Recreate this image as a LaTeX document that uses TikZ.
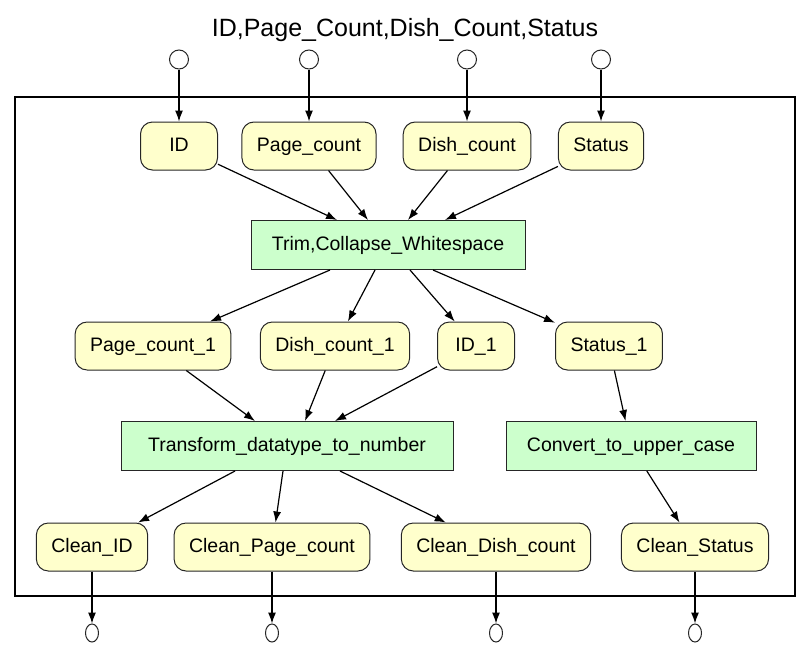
\documentclass[tikz,border=0pt]{standalone}
\usepackage{fontspec}
\setmainfont{Liberation Sans}
\usepackage{xcolor}
\usepackage{tikz}
\usetikzlibrary{arrows.meta,positioning,shapes.geometric}

\definecolor{dataYellow}{HTML}{FFFFCC}
\definecolor{procGreen}{HTML}{CCFFCC}

\begin{document}
\begin{tikzpicture}[
    x=1pt, y=1pt,
    >={Latex[length=11pt,width=8pt]},
    data/.style={rectangle, draw=black!85, line width=1pt, rounded corners=12pt, fill=dataYellow, minimum width=77pt, minimum height=48pt, inner xsep=15pt, text height=14pt, text depth=4pt, font=\fontsize{19.5}{23}\selectfont},
    proc/.style={rectangle, draw=black!85, line width=1pt, fill=procGreen, minimum height=49pt, inner xsep=15pt, text height=14pt, text depth=4pt, font=\fontsize{19.5}{23}\selectfont},
    inport/.style={circle, draw=black!85, line width=1pt, fill=white, minimum size=19pt, inner sep=0pt},
    outport/.style={ellipse, draw=black!85, line width=1pt, fill=white, minimum width=13pt, minimum height=18pt, inner sep=0pt},
    flow/.style={->, line width=1.2pt},
]
\useasboundingbox (0,0) rectangle (810,-656);

\node[font=\fontsize{25}{30}\selectfont] (title) at (405,-30) {ID,Page\_Count,Dish\_Count,Status};

% cluster frame
\draw[line width=2.8pt] (15,-97) rectangle (795,-596);

% inputs
\node[data] (id) at (179,-146) {ID};
\node[data] (page) at (309,-146) {Page\_count};
\node[data] (dish) at (467,-146) {Dish\_count};
\node[data] (status) at (601,-146) {Status};

\node[inport, above=52pt of id] (inid) {};
\node[inport, above=52pt of page] (inpage) {};
\node[inport, above=52pt of dish] (indish) {};
\node[inport, above=52pt of status] (instatus) {};

% steps
\node[proc, minimum width=274pt] (trim) at (388,-245) {Trim,Collapse\_Whitespace};

\node[data] (page1) at (153,-346) {Page\_count\_1};
\node[data] (dish1) at (335,-346) {Dish\_count\_1};
\node[data] (id1) at (476,-346) {ID\_1};
\node[data] (status1) at (609,-346) {Status\_1};

\node[proc, minimum width=332pt] (transform) at (287,-446) {Transform\_datatype\_to\_number};
\node[proc, minimum width=250pt] (convert) at (631,-446) {Convert\_to\_upper\_case};

% outputs
\node[data] (cleanid) at (92,-547) {Clean\_ID};
\node[data] (cleanpage) at (272,-547) {Clean\_Page\_count};
\node[data] (cleandish) at (496,-547) {Clean\_Dish\_count};
\node[data] (cleanstatus) at (695,-547) {Clean\_Status};

\node[outport, below=52pt of cleanid] (outid) {};
\node[outport, below=52pt of cleanpage] (outpage) {};
\node[outport, below=52pt of cleandish] (outdish) {};
\node[outport, below=52pt of cleanstatus] (outstatus) {};

\draw[flow] (inid) -- (id);
\draw[flow] (inpage) -- (page);
\draw[flow] (indish) -- (dish);
\draw[flow] (instatus) -- (status);

\draw[flow] (id) -- ([xshift=-51pt]trim.north);
\draw[flow] (page) -- ([xshift=-20pt]trim.north);
\draw[flow] (dish) -- ([xshift=20pt]trim.north);
\draw[flow] (status) -- ([xshift=57pt]trim.north);

\draw[flow] ([xshift=-58pt]trim.south) -- (page1);
\draw[flow] ([xshift=-13pt]trim.south) -- (dish1);
\draw[flow] ([xshift=22pt]trim.south) -- (id1);
\draw[flow] ([xshift=45pt]trim.south) -- (status1);

\draw[flow] (page1) -- ([xshift=-32pt]transform.north);
\draw[flow] (dish1) -- ([xshift=18pt]transform.north);
\draw[flow] (id1) -- ([xshift=48pt]transform.north);
\draw[flow] (status1) -- (convert);

\draw[flow] ([xshift=-52pt]transform.south) -- (cleanid);
\draw[flow] ([xshift=-4pt]transform.south) -- (cleanpage);
\draw[flow] ([xshift=53pt]transform.south) -- (cleandish);
\draw[flow] (convert) -- (cleanstatus);

\draw[flow] (cleanid) -- (outid);
\draw[flow] (cleanpage) -- (outpage);
\draw[flow] (cleandish) -- (outdish);
\draw[flow] (cleanstatus) -- (outstatus);
\end{tikzpicture}
\end{document}
